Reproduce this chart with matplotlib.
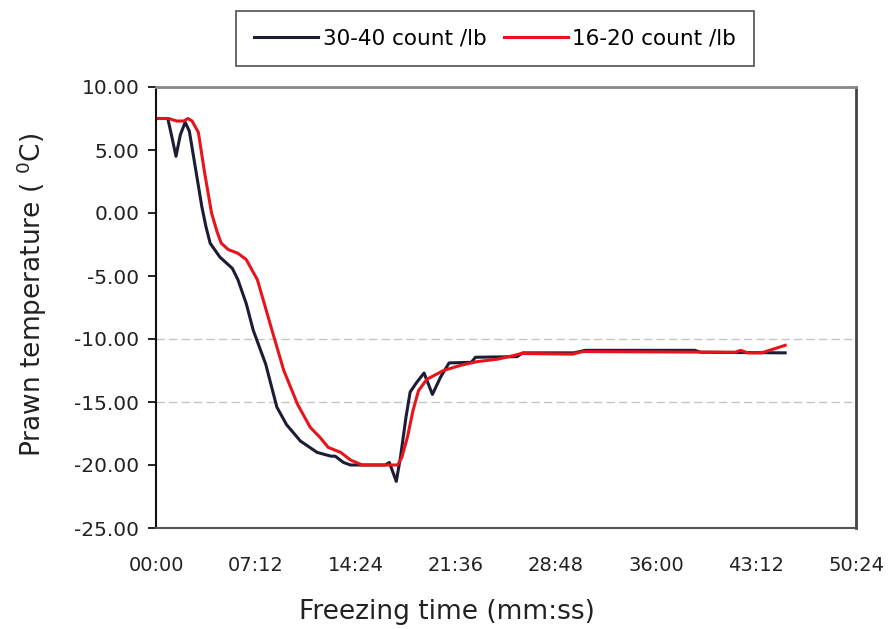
import numpy as np
import matplotlib
matplotlib.use("Agg")
import matplotlib.pyplot as plt
from matplotlib.ticker import FuncFormatter, MultipleLocator

# freezing time in minutes, temperature in deg C
t_small = [0, 0.85, 1.15, 1.44, 1.75, 2.1, 2.4, 2.7, 3.0, 3.3, 3.6, 3.9, 4.6, 5.5,
           5.9, 6.5, 7.0, 7.9, 8.7, 9.4, 10.4, 11.6, 12.6, 12.9, 13.5, 14.0, 16.5,
           16.8, 17.3, 17.6, 18.0, 18.3, 18.8, 19.3, 19.9, 20.5, 21.1, 22.7, 23.0,
           26.0, 26.4, 30.1, 30.9, 38.8, 39.2, 45.3]
temp_small = [7.5, 7.5, 6.0, 4.5, 6.2, 7.2, 6.5, 4.5, 2.5, 0.5, -1.1, -2.4, -3.5, -4.4,
              -5.3, -7.2, -9.3, -12.0, -15.4, -16.8, -18.1, -19.0, -19.3, -19.3, -19.8, -20.0, -20.0,
              -19.8, -21.3, -19.4, -16.2, -14.2, -13.4, -12.7, -14.4, -13.0, -11.9, -11.85, -11.45,
              -11.4, -11.1, -11.1, -10.9, -10.9, -11.05, -11.1]

t_large = [0, 0.9, 1.5, 2.0, 2.3, 2.6, 3.05, 3.5, 4.0, 4.4, 4.7, 5.2, 5.9, 6.5, 7.3,
           7.8, 8.35, 9.2, 10.2, 11.1, 11.8, 12.4, 13.3, 14.0, 14.85, 17.4, 17.7, 18.1,
           18.5, 18.9, 19.5, 20.7, 21.9, 23.1, 24.6, 25.8, 26.3, 30.0, 30.7, 41.7, 42.1,
           42.6, 43.6, 45.3]
temp_large = [7.5, 7.5, 7.3, 7.3, 7.5, 7.3, 6.4, 3.2, 0.0, -1.5, -2.4, -2.9, -3.2, -3.7, -5.3,
              -7.2, -9.3, -12.5, -15.2, -17.0, -17.8, -18.6, -19.0, -19.6, -20.0, -20.0, -19.4, -17.8,
              -15.7, -14.1, -13.2, -12.5, -12.1, -11.8, -11.6, -11.3, -11.15, -11.2, -11.0, -11.05, -10.9,
              -11.1, -11.1, -10.5]

labels = ["30-40 count /lb", "16-20 count /lb"]

fig = plt.figure(figsize=(8.88, 6.29), dpi=100)
ax = fig.add_axes([156/888, 1-528/629, 700/888, 441/629])

ax.plot(t_small, temp_small, color="#1c1c34", lw=2.2, label=labels[0])
ax.plot(t_large, temp_large, color="#e8141c", lw=2.2, label=labels[1])

# faint dashed grid, only at -10 and -15 as in the original
for g in (-10, -15):
    ax.axhline(g, color="#c4c4c4", lw=1, ls=(0, (6, 3)), zorder=0)

ax.set_xlim(0, 50.4)
ax.set_ylim(-25, 10)
ax.xaxis.set_major_locator(MultipleLocator(7.2))
ax.yaxis.set_major_locator(MultipleLocator(5))
ax.xaxis.set_major_formatter(FuncFormatter(lambda v, p: "%02d:%02d" % (int(v), round((v - int(v)) * 60))))
ax.yaxis.set_major_formatter(FuncFormatter(lambda v, p: "%.2f" % v))

ax.tick_params(axis="x", length=0, pad=20, labelsize=14, labelcolor="#222222")
ax.tick_params(axis="y", length=6, width=1.2, pad=6, labelsize=14.5, labelcolor="#222222")

ax.spines["left"].set_color("#111111")
ax.spines["left"].set_linewidth(1.5)
ax.spines["bottom"].set_color("#555555")
ax.spines["bottom"].set_linewidth(1.5)
ax.spines["top"].set_color("#888888")
ax.spines["top"].set_linewidth(2)
ax.spines["right"].set_color("#444444")
ax.spines["right"].set_linewidth(2)

ax.set_xlabel("Freezing time (mm:ss)", fontsize=19, color="#222222")
ax.xaxis.set_label_coords((447 - 156) / 700, -(612 - 528) / 441)
ax.xaxis.label.set_va("center")
ax.set_ylabel("Prawn temperature ( $^{0}$C)", fontsize=19, color="#222222")
ax.yaxis.set_label_coords(-(156 - 32) / 700, (528 - 295) / 441)
ax.yaxis.label.set_va("center")

leg = fig.legend(loc="center", bbox_to_anchor=(495/888, 1-38.5/629), ncol=2,
                 fontsize=15.5, frameon=True, fancybox=False, handlelength=3.0,
                 handletextpad=0.2, columnspacing=0.8, borderpad=0.8)
leg.get_frame().set_edgecolor("#222222")
leg.get_frame().set_linewidth(1.2)

fig.savefig("out.png", dpi=100)
